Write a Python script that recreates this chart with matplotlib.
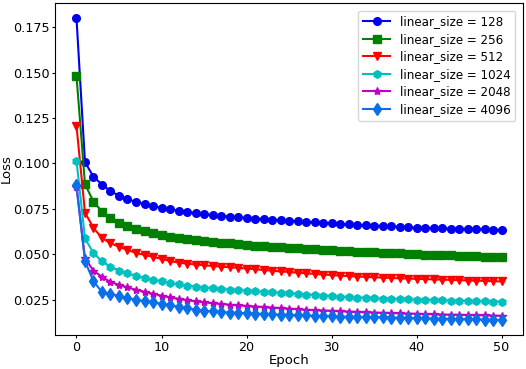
import matplotlib
matplotlib.use("Agg")
import matplotlib.pyplot as plt

epochs = list(range(51))

loss_128 = [0.1800, 0.1007, 0.0927, 0.0884, 0.0848, 0.0823, 0.0803, 0.0789, 0.0777, 0.0766,
            0.0756, 0.0747, 0.0740, 0.0733, 0.0727, 0.0721, 0.0716, 0.0712, 0.0708, 0.0704,
            0.0700, 0.0697, 0.0694, 0.0691, 0.0688, 0.0685, 0.0682, 0.0679, 0.0676, 0.0673,
            0.0670, 0.0667, 0.0665, 0.0662, 0.0660, 0.0658, 0.0656, 0.0654, 0.0651, 0.0649,
            0.0647, 0.0646, 0.0645, 0.0643, 0.0642, 0.0641, 0.0640, 0.0638, 0.0637, 0.0636,
            0.0635]
loss_256 = [0.1482, 0.0886, 0.0790, 0.0735, 0.0700, 0.0674, 0.0654, 0.0641, 0.0628, 0.0616,
            0.0607, 0.0598, 0.0592, 0.0585, 0.0579, 0.0573, 0.0568, 0.0564, 0.0560, 0.0556,
            0.0552, 0.0548, 0.0545, 0.0542, 0.0539, 0.0536, 0.0533, 0.0530, 0.0527, 0.0525,
            0.0522, 0.0519, 0.0517, 0.0515, 0.0513, 0.0511, 0.0509, 0.0507, 0.0505, 0.0503,
            0.0501, 0.0499, 0.0497, 0.0496, 0.0494, 0.0493, 0.0491, 0.0490, 0.0488, 0.0487,
            0.0485]
loss_512 = [0.1208, 0.0730, 0.0645, 0.0590, 0.0561, 0.0542, 0.0524, 0.0508, 0.0497, 0.0486,
            0.0475, 0.0464, 0.0455, 0.0449, 0.0444, 0.0440, 0.0436, 0.0432, 0.0429, 0.0426,
            0.0422, 0.0418, 0.0414, 0.0410, 0.0406, 0.0403, 0.0399, 0.0396, 0.0392, 0.0389,
            0.0386, 0.0383, 0.0380, 0.0378, 0.0376, 0.0374, 0.0372, 0.0370, 0.0368, 0.0367,
            0.0365, 0.0364, 0.0362, 0.0361, 0.0359, 0.0358, 0.0356, 0.0355, 0.0354, 0.0352,
            0.0351]
loss_1024 = [0.1016, 0.0588, 0.0506, 0.0462, 0.0433, 0.0411, 0.0396, 0.0382, 0.0370, 0.0360,
             0.0351, 0.0342, 0.0335, 0.0328, 0.0322, 0.0317, 0.0313, 0.0309, 0.0306, 0.0303,
             0.0300, 0.0297, 0.0294, 0.0291, 0.0288, 0.0285, 0.0282, 0.0279, 0.0276, 0.0273,
             0.0270, 0.0267, 0.0264, 0.0262, 0.0260, 0.0258, 0.0256, 0.0255, 0.0253, 0.0252,
             0.0251, 0.0249, 0.0248, 0.0247, 0.0246, 0.0244, 0.0243, 0.0242, 0.0241, 0.0240,
             0.0239]
loss_2048 = [0.0870, 0.0478, 0.0410, 0.0376, 0.0348, 0.0332, 0.0318, 0.0305, 0.0294, 0.0283,
             0.0273, 0.0263, 0.0255, 0.0248, 0.0241, 0.0236, 0.0231, 0.0227, 0.0223, 0.0219,
             0.0216, 0.0213, 0.0210, 0.0207, 0.0204, 0.0201, 0.0198, 0.0195, 0.0193, 0.0191,
             0.0189, 0.0187, 0.0185, 0.0183, 0.0181, 0.0180, 0.0178, 0.0177, 0.0175, 0.0174,
             0.0173, 0.0171, 0.0170, 0.0169, 0.0168, 0.0167, 0.0166, 0.0165, 0.0164, 0.0163,
             0.0162]
loss_4096 = [0.0880, 0.0462, 0.0352, 0.0292, 0.0283, 0.0270, 0.0260, 0.0251, 0.0243, 0.0236,
             0.0228, 0.0220, 0.0212, 0.0204, 0.0196, 0.0190, 0.0186, 0.0183, 0.0180, 0.0178,
             0.0176, 0.0174, 0.0172, 0.0170, 0.0168, 0.0167, 0.0165, 0.0164, 0.0162, 0.0161,
             0.0160, 0.0158, 0.0157, 0.0156, 0.0155, 0.0154, 0.0153, 0.0152, 0.0151, 0.0150,
             0.0149, 0.0148, 0.0147, 0.0146, 0.0145, 0.0144, 0.0143, 0.0142, 0.0141, 0.0140,
             0.0139]

labels = ["linear_size = 128", "linear_size = 256", "linear_size = 512",
          "linear_size = 1024", "linear_size = 2048", "linear_size = 4096"]
series = [loss_128, loss_256, loss_512, loss_1024, loss_2048, loss_4096]
colors = ["#0000ee", "#008000", "#ff0000", "#00bfbf", "#bf00bf", "#0a6fe8"]
markers = ["o", "s", "v", "h", "*", "d"]
msizes = [5.5, 5.5, 5.5, 5.5, 6, 6]

fig = plt.figure(figsize=(5.26, 3.69), dpi=100)
ax = fig.add_axes([0.105, 0.092, 0.889, 0.900])

for y, lab, c, m, ms in zip(series, labels, colors, markers, msizes):
    ax.plot(epochs, y, color=c, marker=m, markersize=ms, linewidth=1.5, label=lab)

ax.set_xticks([0, 10, 20, 30, 40, 50])
ax.set_yticks([0.025, 0.050, 0.075, 0.100, 0.125, 0.150, 0.175])
ax.set_xlabel("Epoch", fontsize=9.5, labelpad=0)
ax.set_ylabel("Loss", fontsize=9.5)
ax.yaxis.set_label_coords(-0.091, 0.5)
ax.tick_params(labelsize=9.2, direction="out", length=2.5, pad=1.5)
ax.legend(loc="upper right", fontsize=8.6, handlelength=2.3, labelspacing=0.38,
          borderaxespad=0.5, bbox_to_anchor=(0.997, 0.995))

fig.savefig("out.png", dpi=100)
